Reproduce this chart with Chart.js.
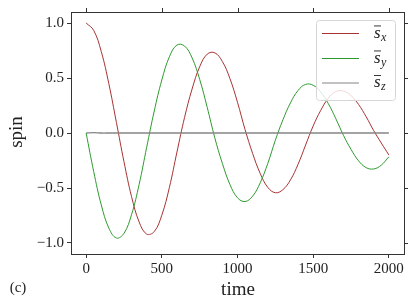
<!DOCTYPE html>
<html>
<head>
<meta charset="utf-8">
<script src="https://cdn.jsdelivr.net/npm/chart.js@4"></script>
<style>
  html, body { margin: 0; padding: 0; background: #fff; }
  #wrap { width: 415px; height: 306px; }
</style>
</head>
<body>
<div id="wrap"><canvas id="myChart" width="415" height="306"></canvas></div>
<script>
// time samples and spin components
var times = [0, 50, 100, 150, 200, 250, 300, 350, 400, 450, 500, 550, 600, 650, 700, 750, 800, 850, 900, 950,
  1000, 1050, 1100, 1150, 1200, 1250, 1300, 1350, 1400, 1450, 1500, 1550, 1600, 1650, 1700, 1750, 1800, 1850, 1900, 1950, 2000];
var sx = [1.00, 0.933, 0.740, 0.448, 0.096, -0.261, -0.578, -0.808, -0.919, -0.896, -0.747, -0.495, -0.173, 0.140, 0.400, 0.602, 0.717, 0.729, 0.650, 0.495,
  0.279, 0.031, -0.186, -0.368, -0.494, -0.543, -0.515, -0.426, -0.285, -0.109, 0.064, 0.206, 0.316, 0.377, 0.381, 0.340, 0.259, 0.148, 0.021, -0.091, -0.200];
var sy = [0.00, -0.351, -0.654, -0.864, -0.955, -0.912, -0.742, -0.468, -0.130, 0.200, 0.482, 0.693, 0.800, 0.791, 0.683, 0.488, 0.233, -0.044, -0.276, -0.468,
  -0.589, -0.623, -0.574, -0.453, -0.277, -0.066, 0.120, 0.274, 0.387, 0.442, 0.434, 0.373, 0.267, 0.129, -0.021, -0.149, -0.253, -0.315, -0.327, -0.292, -0.216];
var sz = [0, 0.004, 0, 0, 0, 0, 0, 0, 0, 0, 0, 0, 0, 0, 0, 0, 0, 0, 0, 0,
  0, 0, 0, 0, 0, 0, 0, 0, 0, 0, 0, 0, 0, 0, 0, 0, 0, 0, 0, 0, 0];
var xTicks = [0, 500, 1000, 1500, 2000];
var yTicks = [-1.0, -0.5, 0.0, 0.5, 1.0];
var seriesNames = ['x', 'y', 'z'];
var seriesColors = ['#a83232', '#2e9a2e', '#858585'];

function pts(vals) {
  return times.map(function (t, i) { return { x: t, y: vals[i] }; });
}
function minus(s) { return s.replace('-', '\u2212'); }

var serif = "'Liberation Serif', 'DejaVu Serif', serif";

// frame, outer ticks on top/right, legend box and texts
var decor = {
  id: 'decor',
  afterDraw: function (c) {
    var ctx = c.ctx, a = c.chartArea;
    var xs = c.scales.x, ys = c.scales.y;
    ctx.save();
    ctx.strokeStyle = '#333';
    ctx.lineWidth = 1;
    ctx.beginPath();
    xTicks.forEach(function (v) {
      var px = Math.round(xs.getPixelForValue(v)) + 0.5;
      ctx.moveTo(px, a.top); ctx.lineTo(px, a.top - 4);
    });
    yTicks.forEach(function (v) {
      var py = Math.round(ys.getPixelForValue(v)) + 0.5;
      ctx.moveTo(a.right, py); ctx.lineTo(a.right + 4, py);
    });
    ctx.stroke();
    ctx.strokeRect(Math.round(a.left) + 0.5, Math.round(a.top) + 0.5, Math.round(a.right - a.left), Math.round(a.bottom - a.top));

    // legend
    var lx = 316, ly = 20, lw = 79, lh = 80;
    ctx.beginPath();
    ctx.roundRect(lx + 0.5, ly + 0.5, lw, lh, 3);
    ctx.fillStyle = 'rgba(255,255,255,0.8)';
    ctx.fill();
    ctx.strokeStyle = '#d6d6d6';
    ctx.stroke();
    var rows = [33.5, 58.5, 83];
    seriesNames.forEach(function (n, i) {
      ctx.strokeStyle = seriesColors[i];
      ctx.lineWidth = 1;
      ctx.beginPath();
      ctx.moveTo(322, rows[i]); ctx.lineTo(359, rows[i]);
      ctx.stroke();
      ctx.fillStyle = '#222';
      ctx.textBaseline = 'alphabetic';
      ctx.textAlign = 'left';
      ctx.font = 'italic 17px ' + serif;
      ctx.fillText('s', 374, rows[i] + 4);
      ctx.fillRect(374, rows[i] - 8, 7, 0.9);
      ctx.font = 'italic 12px ' + serif;
      ctx.fillText(n, 381, rows[i] + 7);
    });

    // titles
    ctx.fillStyle = '#222';
    ctx.textAlign = 'center';
    ctx.textBaseline = 'middle';
    ctx.font = '19px ' + serif;
    ctx.fillText('time', 238, 290);
    ctx.font = '15px ' + serif;
    ctx.fillText('(c)', 18, 288);
    ctx.translate(17, 132);
    ctx.rotate(-Math.PI / 2);
    ctx.font = '19px ' + serif;
    ctx.fillText('spin', 0, 0);
    ctx.restore();
  }
};

window.addEventListener('load', function () {
  var ctx = document.getElementById('myChart').getContext('2d');
  new Chart(ctx, {
    type: 'line',
    data: {
      datasets: [
        { label: 'sx', data: pts(sx), borderColor: seriesColors[0], borderWidth: 1, order: 2 },
        { label: 'sy', data: pts(sy), borderColor: seriesColors[1], borderWidth: 1, order: 1 },
        { label: 'sz', data: pts(sz), borderColor: seriesColors[2], borderWidth: 1.3, order: 0 }
      ]
    },
    options: {
      responsive: false,
      animation: false,
      layout: { padding: { left: 0, right: 11, top: 11, bottom: 0 } },
      elements: { point: { radius: 0 }, line: { tension: 0.4 } },
      plugins: { legend: { display: false }, tooltip: { enabled: false } },
      scales: {
        x: {
          type: 'linear', min: -100, max: 2100,
          afterBuildTicks: function (s) { s.ticks = xTicks.map(function (v) { return { value: v }; }); },
          afterFit: function (s) { s.height = 52; },
          grid: { drawOnChartArea: false, tickLength: 4, color: '#333' },
          border: { display: false },
          ticks: { color: '#222', font: { family: serif, size: 15 }, padding: 2, maxRotation: 0,
            callback: function (v) { return String(v); } }
        },
        y: {
          type: 'linear', min: -1.1, max: 1.1,
          afterBuildTicks: function (s) { s.ticks = yTicks.map(function (v) { return { value: v }; }); },
          afterFit: function (s) { s.width = 71; },
          grid: { drawOnChartArea: false, tickLength: 4, color: '#333' },
          border: { display: false },
          ticks: { color: '#222', font: { family: serif, size: 15 }, padding: 3,
            callback: function (v) { return minus(Number(v).toFixed(1)); } }
        }
      }
    },
    plugins: [decor]
  });
});
</script>
</body>
</html>
